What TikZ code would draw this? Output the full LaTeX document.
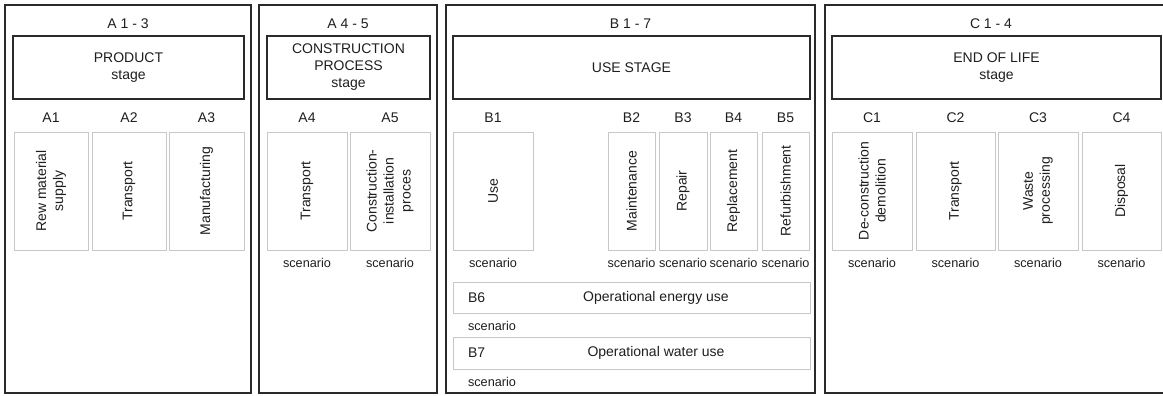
\documentclass[tikz,border=0pt]{standalone}
\usepackage{fontspec}
\setmainfont{Liberation Sans}
\definecolor{ink}{HTML}{1E1E1E}
\definecolor{frame}{HTML}{2A2A2A}
\definecolor{light}{HTML}{C8C8C8}
\begin{document}
\begin{tikzpicture}[x=1pt,y=-1pt,
  every node/.style={text=ink,font=\fontsize{14}{17}\selectfont,inner sep=0pt,outer sep=0pt},
  panel/.style={draw=frame,line width=2pt,minimum height=388},
  stagebox/.style={draw=frame,line width=2pt,minimum height=63,align=center},
  subbox/.style={draw=light,line width=1pt,minimum height=118},
  rowbox/.style={draw=light,line width=1pt,minimum width=357},
  vtext/.style={rotate=90,align=center},
  scen/.style={font=\fontsize{12.7}{15}\selectfont}
]
\useasboundingbox (0,0) rectangle (1163,396);
\begin{scope}
\clip (0,0) rectangle (1163,396);
% panels
\node[panel,minimum width=246] (p1) at (128,199) {};
\node[panel,minimum width=178] (p2) at (348,199) {};
\node[panel,minimum width=369] (p3) at (630.5,199) {};
\node[panel,minimum width=345] (p4) at (997.5,199) {};
\end{scope}
% headers
\node (h1) at (128,24) {A 1 - 3};
\node (h2) at (348,24) {A 4 - 5};
\node (h3) at (630.5,24) {B 1 - 7};
\node (h4) at (991,24) {C 1 - 4};
% stage boxes
\node[stagebox,minimum width=231] (s1) at (128.5,67.5) {PRODUCT\\stage};
\node[stagebox,minimum width=163] (s2) at (348.5,67.5) {CONSTRUCTION\\PROCESS\\stage};
\node[stagebox,minimum width=357] (s3) at (631.5,67.5) {USE STAGE};
\node[stagebox,minimum width=329] (s4) at (996.5,67.5) {END OF LIFE\\stage};
% sub boxes
\node[subbox,minimum width=74] (a1) at (51,191) {};
\node[subbox,minimum width=74] (a2) at (129,191) {};
\node[subbox,minimum width=75] (a3) at (206.5,191) {};
\node[subbox,minimum width=80] (a4) at (307,191) {};
\node[subbox,minimum width=80] (a5) at (390,191) {};
\node[subbox,minimum width=80] (b1) at (493,191) {};
\node[subbox,minimum width=47] (b2) at (631.5,191) {};
\node[subbox,minimum width=48] (b3) at (683,191) {};
\node[subbox,minimum width=47] (b4) at (733.5,191) {};
\node[subbox,minimum width=47] (b5) at (785.5,191) {};
\node[subbox,minimum width=80] (c1) at (872,191) {};
\node[subbox,minimum width=79] (c2) at (955.5,191) {};
\node[subbox,minimum width=80] (c3) at (1038,191) {};
\node[subbox,minimum width=79] (c4) at (1121.5,191) {};
% codes
\foreach \n/\t in {a1/A1,a2/A2,a3/A3,a4/A4,a5/A5,b1/B1,b2/B2,b3/B3,b4/B4,b5/B5,c1/C1,c2/C2,c3/C3,c4/C4}
  \node (l\n) at (\n.center |- 0,118) {\t};
% vertical texts
\node[vtext] (ta1) at (a1.center) {Rew material\\supply};
\node[vtext] (ta2) at (a2.center) {Transport};
\node[vtext] (ta3) at (a3.center) {Manufacturing};
\node[vtext] (ta4) at (a4.center) {Transport};
\node[vtext] (ta5) at (a5.center) {Construction-\\installation\\proces};
\node[vtext] (tb1) at (b1.center) {Use};
\node[vtext] (tb2) at (b2.center) {Maintenance};
\node[vtext] (tb3) at (b3.center) {Repair};
\node[vtext] (tb4) at (b4.center) {Replacement};
\node[vtext] (tb5) at (b5.center) {Refurbishment};
\node[vtext] (tc1) at (c1.center) {De-construction\\demolition};
\node[vtext] (tc2) at (c2.center) {Transport};
\node[vtext] (tc3) at (c3.center) {Waste\\processing};
\node[vtext] (tc4) at (c4.center) {Disposal};
% scenario labels
\foreach \n in {a4,a5,b1,b2,b3,b4,b5,c1,c2,c3,c4}
  \node[scen] (sc\n) at (\n.center |- 0,263) {scenario};
% B6 / B7 rows
\node[rowbox,minimum height=31] (b6) at (631.5,297.5) {};
\node[rowbox,minimum height=32] (b7) at (631.5,353) {};
\node[anchor=west] (lb6) at (468,297.5) {B6};
\node (tb6) at (656,297.5) {Operational energy use};
\node[anchor=west] (lb7) at (468,353) {B7};
\node (tb7) at (656,353) {Operational water use};
\node[scen,anchor=west] (scb6) at (468,326) {scenario};
\node[scen,anchor=west] (scb7) at (468,382) {scenario};
\end{tikzpicture}
\end{document}
